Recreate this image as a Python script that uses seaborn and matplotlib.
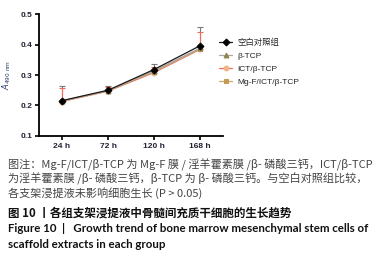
import numpy as np
import pandas as pd
import matplotlib
matplotlib.use("Agg")
import matplotlib.pyplot as plt
import seaborn as sns

times = ["24 h", "72 h", "120 h", "168 h"]
groups = ["空白对照组", "β-TCP", "ICT/β-TCP", "Mg-F/ICT/β-TCP"]
control = [0.216, 0.250, 0.318, 0.396]
btcp = [0.215, 0.249, 0.314, 0.388]
ict = [0.213, 0.247, 0.308, 0.384]
mgf = [0.214, 0.248, 0.311, 0.386]
control_err = [0.047, 0.015, 0.018, 0.062]
ict_err = [0.043, 0.013, 0.018, 0.056]
yticks = [0.1, 0.2, 0.3, 0.4, 0.5]

sns.set_theme(style="ticks")
plt.rcParams['font.family'] = ['Liberation Sans', 'Noto Sans CJK SC', 'DejaVu Sans']

fig = plt.figure(figsize=(3.87, 2.56), dpi=100)
ax = fig.add_axes([0.1008, 0.469, 0.4754, 0.476])

series = [control, btcp, ict, mgf]
df = pd.DataFrame({
    "time": times * 4,
    "value": sum(series, []),
    "group": sum([[g] * 4 for g in groups], []),
})
line_colors = ["#1a1a1a", "#a8a8a0", "#f06a5a", "#c8a870"]
marker_colors = ["#000000", "#8f8450", "#f2b48a", "#c49a55"]
markers = ["D", "^", "o", "s"]

# error bars (upper only)
xpos = np.arange(len(times))
ax.errorbar(xpos, control, yerr=[np.zeros(4), control_err], fmt="none",
            ecolor="#7a7a7a", elinewidth=0.8, capsize=2.5, capthick=0.8, zorder=2)
ax.errorbar(xpos, ict, yerr=[np.zeros(4), ict_err], fmt="none",
            ecolor="#f06a5a", elinewidth=0.8, capsize=2.5, capthick=0.8, zorder=2)

order = [2, 3, 1, 0]
for i in order:
    sub = df[df.group == groups[i]]
    sns.lineplot(x=xpos, y=sub["value"].values, ax=ax, color=line_colors[i],
                 marker=markers[i], markersize=3.5, markerfacecolor=marker_colors[i],
                 markeredgecolor=marker_colors[i], linewidth=0.9, label=groups[i],
                 zorder=3 + (i == 0))

ax.set_xlim(-0.5, 3.5)
ax.set_ylim(0.1, 0.5)
ax.set_xticks(xpos)
ax.set_xticklabels(times)
ax.set_yticks(yticks)
ax.set_yticklabels([f"{v:.1f}" for v in yticks])
ax.set_xlabel("")
ax.set_ylabel(r"$\mathit{A}_{\mathrm{490\ nm}}$", fontsize=6, color="#2a3a6a", labelpad=5)
for s in ["top", "right"]:
    ax.spines[s].set_visible(False)
for s in ["left", "bottom"]:
    ax.spines[s].set_linewidth(1.3)
    ax.spines[s].set_color("black")
ax.tick_params(axis="both", length=3, width=1.2, colors="black", labelsize=6, pad=2)
for lab in ax.get_xticklabels() + ax.get_yticklabels():
    lab.set_fontweight("bold")
    lab.set_color("#222233")

handles, labels = ax.get_legend_handles_labels()
hmap = dict(zip(labels, handles))
ax.legend([hmap[g] for g in groups], groups, loc="upper left",
          bbox_to_anchor=(0.96, 0.83), frameon=False, fontsize=6,
          handlelength=1.6, handletextpad=0.6, labelspacing=0.65, borderaxespad=0)

cap_color = "#444444"
cjk = ['Noto Sans CJK SC', 'Lato', 'DejaVu Sans']
lines = [
    (165, "图注：Mg-F/ICT/β-TCP 为 Mg-F 膜 / 淫羊藿素膜 /β- 磷酸三钙，ICT/β-TCP", cap_color, "normal"),
    (179, "为淫羊藿素膜 /β- 磷酸三钙，β-TCP 为 β- 磷酸三钙。与空白对照组比较，", cap_color, "normal"),
    (193, "各支架浸提液未影响细胞生长 (P > 0.05)", cap_color, "normal"),
]
for y, t, c, w in lines:
    fig.text(8 / 387, 1 - y / 256, t, fontsize=8.0, color=c, fontweight=w,
             family=cjk, va="center", ha="left")
fig.text(8 / 387, 1 - 213 / 256, "图 10 丨各组支架浸提液中骨髓间充质干细胞的生长趋势",
         fontsize=8.3, color="#111111", family=cjk, fontweight="bold", va="center")
fig.text(8 / 387, 1 - 229 / 256,
         "Figure 10  |   Growth trend of bone marrow mesenchymal stem cells of",
         fontsize=8.3, color="#111111", family=['Lato', 'DejaVu Sans'], fontweight="bold", va="center")
fig.text(8 / 387, 1 - 244 / 256, "scaffold extracts in each group",
         fontsize=8.3, color="#111111", family=['Lato', 'DejaVu Sans'], fontweight="bold", va="center")

fig.savefig("out.png", dpi=100)
